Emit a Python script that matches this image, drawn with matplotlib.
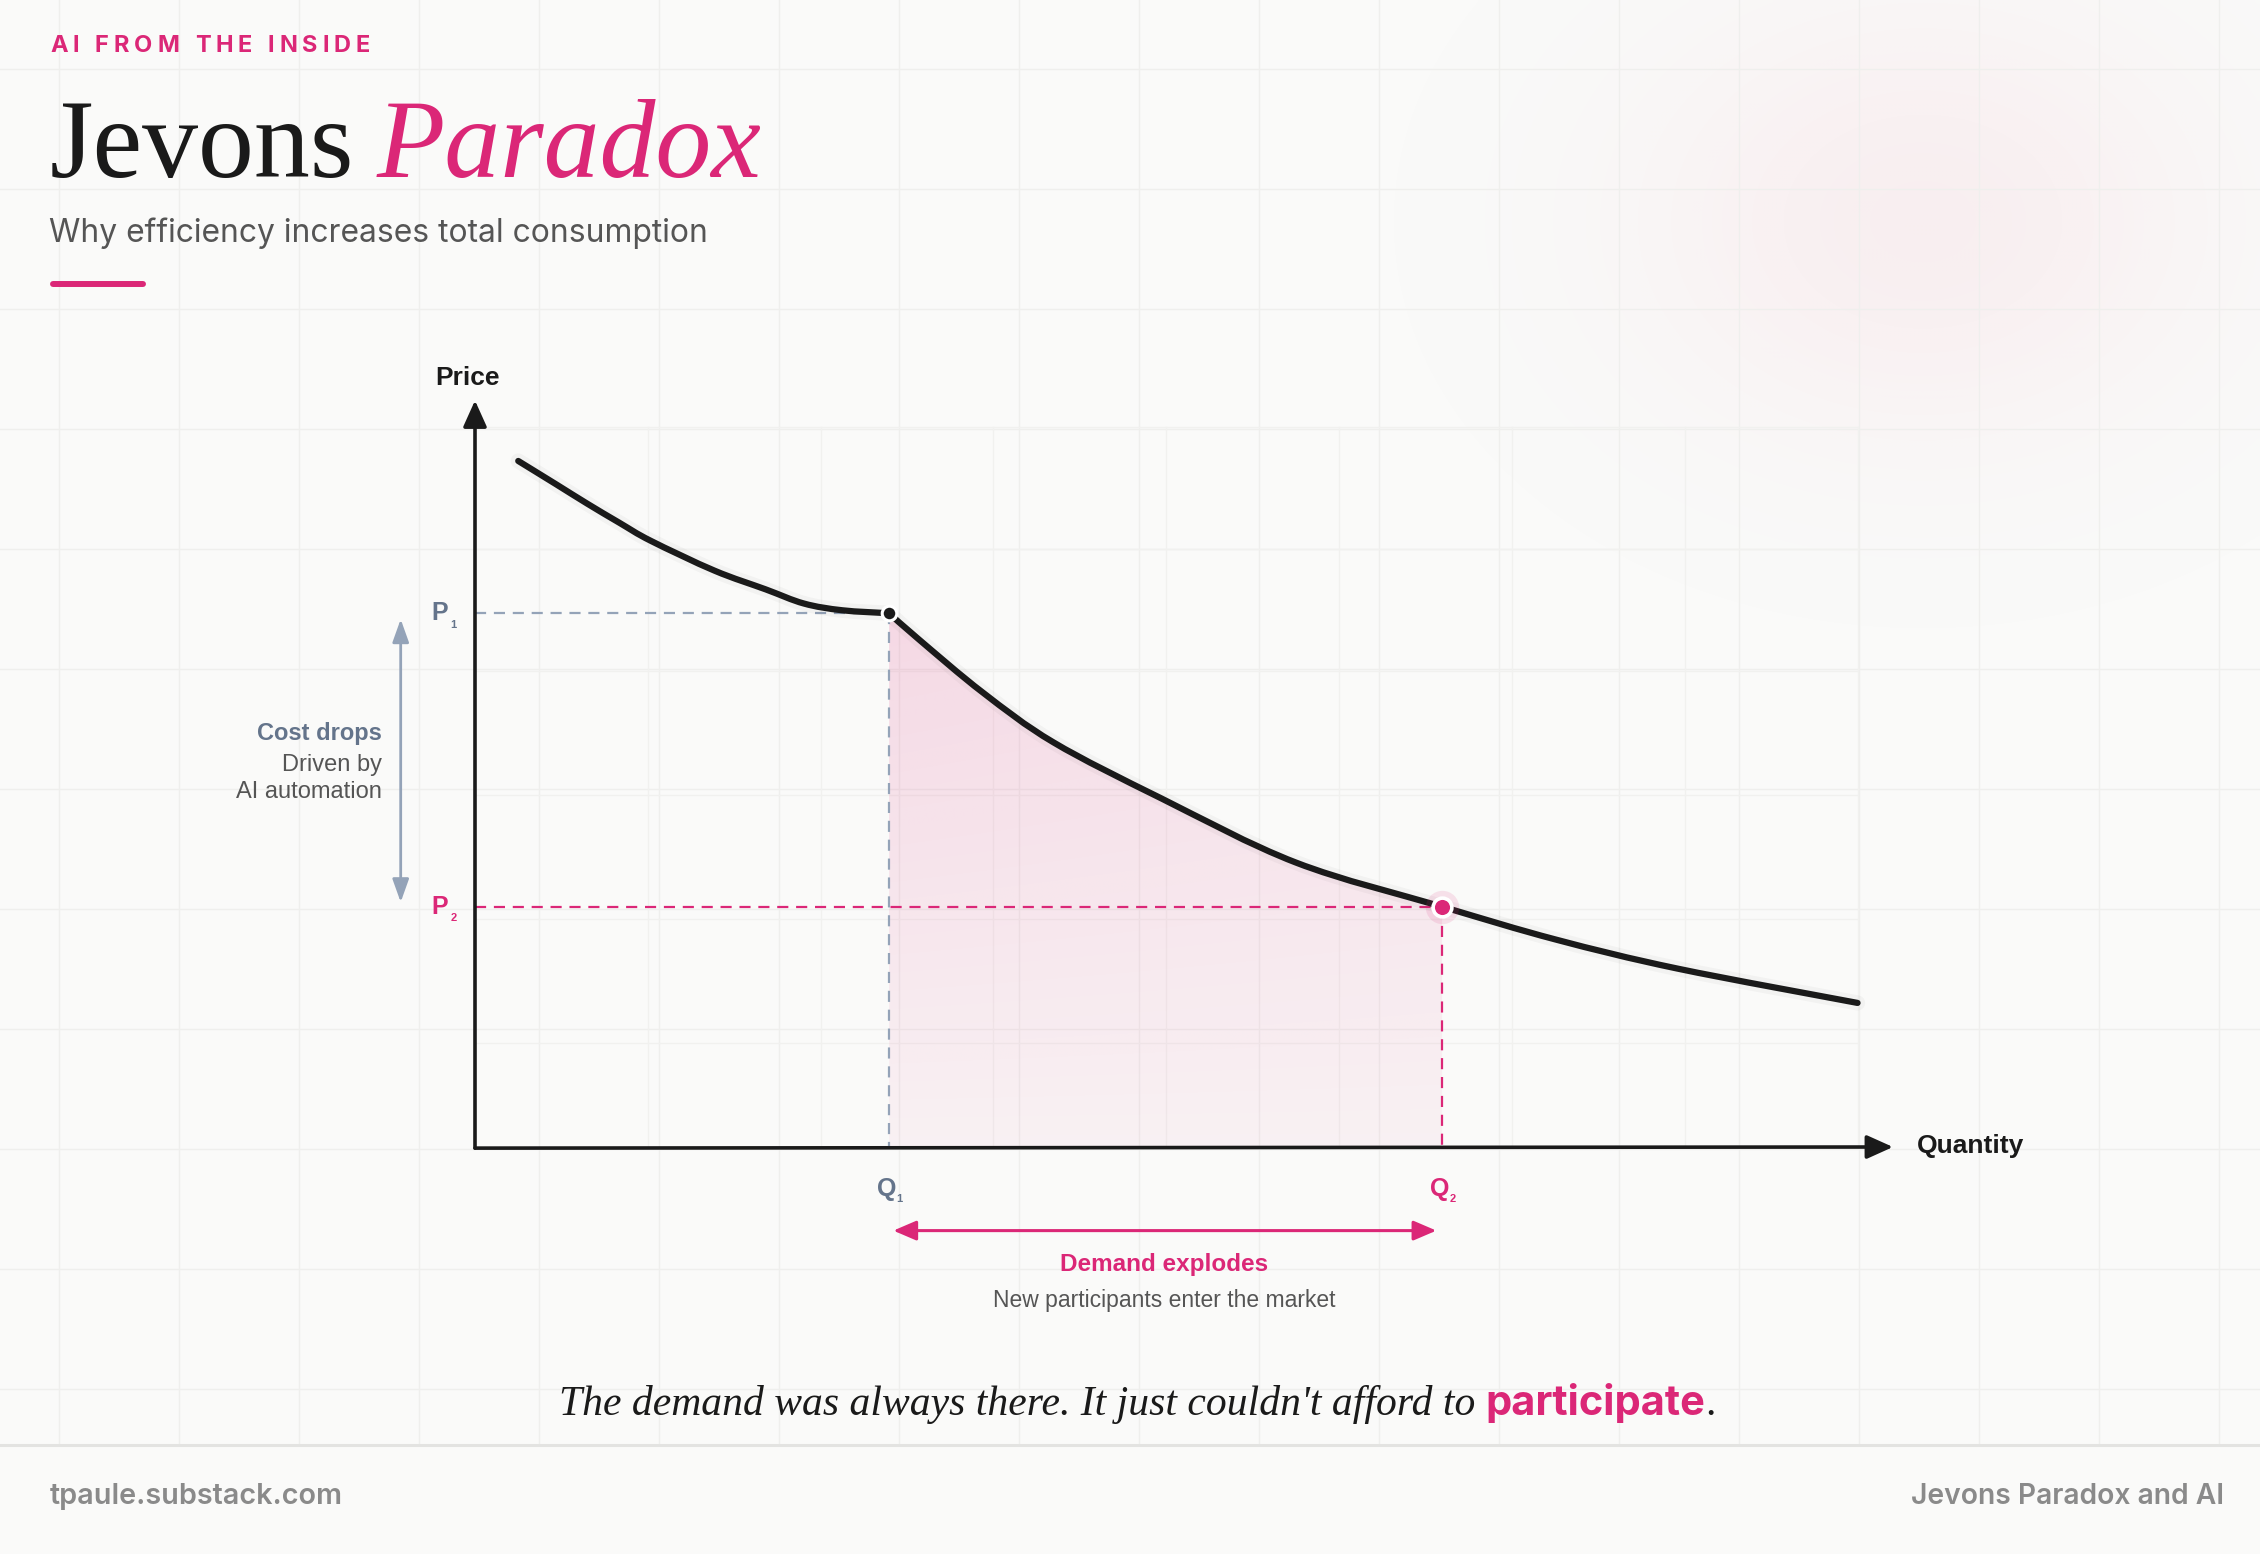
import numpy as np
import matplotlib
matplotlib.use('Agg')
import matplotlib.pyplot as plt
from matplotlib.colors import to_rgb
from matplotlib.path import Path
from matplotlib.patches import PathPatch

# values (chart units: quantity 0-100, price 0-100)
upper_q = [3.05, 5.7, 7.9, 10.2, 12.4, 16.9, 20.5, 23.2, 25.9, 29.2]
upper_p = [91.9, 88.8, 86.2, 83.6, 81.2, 77.2, 74.7, 72.8, 71.9, 71.5]
lower_q = [29.2, 31.3, 35.8, 40.8, 48.4, 57.9, 68.2, 76.2, 84.8, 97.5]
lower_p = [71.5, 68.0, 60.9, 54.2, 46.7, 38.1, 32.2, 27.8, 23.9, 19.3]
q1, q2 = 29.2, 68.2
p1, p2 = 71.5, 32.2

header = 'AI FROM THE INSIDE'
title_plain = 'Jevons'
title_accent = 'Paradox'
subtitle = 'Why efficiency increases total consumption'
quote_text = "The demand was always there. It just couldn't afford to"
quote_accent = 'participate'
footer_left = 'tpaule.substack.com'
footer_right = 'Jevons Paradox and AI'
cost_lines = ['Cost drops', 'Driven by', 'AI automation']
demand_lines = ['Demand explodes', 'New participants enter the market']

PINK = '#DB2777'
SLATE = '#64748B'
SLATE_LIGHT = '#94A3B8'
INK = '#1A1A1A'
GREY = '#555555'
FOOT = '#8A8A8A'
BG = '#FAFAF9'
GRID = '#EFEFED'
SANS = 'Liberation Sans'

W, H = 2260, 1554
fig = plt.figure(figsize=(W / 100, H / 100), dpi=100)
fig.patch.set_facecolor(BG)
r = fig.canvas.get_renderer()

# page layer in pixel coordinates
bg = fig.add_axes([0, 0, 1, 1])
bg.axis('off')

yy, xx = np.mgrid[0:H:4, 0:W:4]
d = np.hypot(xx - 1921, (yy - 220) * 1.3) / 400
glow = np.zeros(xx.shape + (4,))
glow[..., :3] = to_rgb('#F0A0B4')
glow[..., 3] = 0.13 * np.exp(-2 * d ** 2)
bg.imshow(glow, extent=[0, W, H, 0], interpolation='bilinear', zorder=0)
bg.set_xlim(0, W)
bg.set_ylim(H, 0)
bg.set_aspect('auto')

for x in range(59, W, 120):
    bg.plot([x, x], [0, 1445], color=GRID, lw=1, zorder=1)
for y in range(69, 1445, 120):
    bg.plot([0, W], [y, y], color=GRID, lw=1, zorder=1)
bg.plot([0, W], [1445, 1445], color='#E3E3E1', lw=2.2, zorder=1)


def measure(s, **kw):
    t = bg.text(0, 0, s, **kw)
    w = t.get_window_extent(r).width
    t.remove()
    return w


def fit_size(parts, gaps, width, base=40):
    tot = sum(measure(s, fontsize=base, **kw) for s, kw in parts) + gaps * base
    return base * width / tot


# header with letter spacing
hk = dict(family='Inter', weight='bold', color=PINK, fontsize=17)
cw = [measure(c, **hk) if c != ' ' else 0 for c in header]
spaces = header.count(' ')
sp_w = 0.25 * 17 * 100 / 72
track = (320 - sum(cw) - spaces * sp_w) / (len(header) - 1)
cx = 50
for c, w in zip(header, cw):
    if c == ' ':
        cx += sp_w + track
        continue
    bg.text(cx, 52, c, va='baseline', ha='left', **hk)
    cx += w + track

# title
t1 = dict(family='Liberation Serif', color=INK)
t2 = dict(family='Liberation Serif', style='italic', color=PINK)
gap = 0.2
fs = fit_size([(title_plain, t1), (title_accent, t2)], gap * 100 / 72, 712, 80)
w1 = measure(title_plain, fontsize=fs, **t1)
bg.text(50, 177, title_plain, fontsize=fs, va='baseline', **t1)
bg.text(50 + w1 + gap * fs * 100 / 72, 177, title_accent, fontsize=fs, va='baseline', **t2)

sk = dict(family='Inter', color=GREY)
fs = fit_size([(subtitle, sk)], 0, 660, 24)
bg.text(49, 242, subtitle, fontsize=fs, va='baseline', **sk)
bg.plot([53, 143], [284, 284], color=PINK, lw=4.3, solid_capstyle='round')

# footer
fk = dict(family='Inter', weight='semibold', color=FOOT)
fs = fit_size([(footer_left, fk)], 0, 292, 19)
bg.text(50, 1497, footer_left, fontsize=fs, va='center', **fk)
fs = fit_size([(footer_right, fk)], 0, 313, 19)
bg.text(2224, 1497, footer_right, fontsize=fs, va='center', ha='right', **fk)

# closing quote
qk = dict(family='Liberation Serif', style='italic', color=INK)
ak = dict(family='Inter', weight='bold', color=PINK)
gap = 0.25
fs = fit_size([(quote_text, qk), (quote_accent, ak), ('.', qk)], gap * 100 / 72, 1156, 30)
wq = measure(quote_text, fontsize=fs, **qk)
wa = measure(quote_accent, fontsize=fs, **ak)
x0 = 559
bg.text(x0, 1415, quote_text, fontsize=fs, va='baseline', **qk)
xa = x0 + wq + gap * fs * 100 / 72
bg.text(xa, 1415, quote_accent, fontsize=fs, va='baseline', **ak)
bg.text(xa + wa + 1, 1415, '.', fontsize=fs, va='baseline', **qk)

# chart layer in quantity / price units
ax = fig.add_axes([475 / W, 1 - 1147 / H, 1418 / W, 746.5 / H])
ax.patch.set_alpha(0)
ax.axis('off')

for gx in np.linspace(0, 97.5, 9):
    ax.plot([gx, gx], [0, 96.5], color='#F1F1EF', lw=1, zorder=0)
for gy in [13.9, 30.5, 47.1, 63.7, 80.1, 96.5]:
    ax.plot([0, 97.5], [gy, gy], color='#F1F1EF', lw=1, zorder=0)


def smooth_path(qs, ps):
    # Catmull-Rom through the read points, drawn as cubic Bezier segments
    pts = np.column_stack([qs, ps])
    ext = np.vstack([pts[0], pts, pts[-1]])
    verts = [pts[0]]
    codes = [Path.MOVETO]
    for i in range(len(pts) - 1):
        a, b, c, e = ext[i], ext[i + 1], ext[i + 2], ext[i + 3]
        verts += [b + (c - a) / 6, c - (e - b) / 6, c]
        codes += [Path.CURVE4] * 3
    return verts, codes


# shaded demand gain between Q1 and Q2
fill_q = [q for q in lower_q if q1 <= q <= q2]
fill_p = [p for q, p in zip(lower_q, lower_p) if q1 <= q <= q2]
fv, fc = smooth_path(fill_q, fill_p)
fv += [(q2, 0), (q1, 0), (q1, 0)]
fc += [Path.LINETO, Path.LINETO, Path.CLOSEPOLY]
poly = PathPatch(Path(fv, fc), facecolor='none', edgecolor='none')
ax.add_patch(poly)
gv, gu = np.mgrid[0:1:200j, 0:1:200j]
grad = np.zeros(gv.shape + (4,))
grad[..., :3] = to_rgb(PINK)
grad[..., 3] = 0.045 + 0.115 * gv * (1 - 0.25 * gu)
im = ax.imshow(grad, extent=[q1, q2, 0, p1], origin='lower', aspect='auto',
               interpolation='bilinear', zorder=1)
im.set_clip_path(poly)

dash = (0, (5, 3.5))
ax.plot([0, q1], [p1, p1], color=SLATE_LIGHT, lw=1.6, ls=dash, zorder=2)
ax.plot([q1, q1], [p1, 0], color=SLATE_LIGHT, lw=1.6, ls=dash, zorder=2)
ax.plot([0, q2], [p2, p2], color=PINK, lw=1.6, ls=dash, zorder=2)
ax.plot([q2, q2], [p2, 0], color=PINK, lw=1.6, ls=dash, zorder=2)

# axes with arrow heads
ap = dict(arrowstyle='-|>,head_length=0.8,head_width=0.36', mutation_scale=20,
          lw=2.6, color=INK, shrinkA=0, shrinkB=0)
ax.annotate('', xy=(100, 0), xytext=(0, -0.15), arrowprops=ap, annotation_clip=False, zorder=3)
ax.annotate('', xy=(0, 100), xytext=(0, -0.15), arrowprops=ap, annotation_clip=False, zorder=3)
ax.text(-0.5, 103.0, 'Price', family=SANS, weight='bold', fontsize=19, color=INK,
        ha='center', va='center')
ax.text(101.7, 0.2, 'Quantity', family=SANS, weight='bold', fontsize=19, color=INK,
        ha='left', va='center')

# demand curve
for qs, ps in [(upper_q, upper_p), (lower_q, lower_p)]:
    v, c = smooth_path(qs, ps)
    ax.add_patch(PathPatch(Path(v, c), facecolor='none', edgecolor='#000000',
                           lw=11, alpha=0.03, zorder=3, capstyle='round'))
    ax.add_patch(PathPatch(Path(v, c), facecolor='none', edgecolor=INK,
                           lw=4.5, zorder=4, capstyle='round', joinstyle='round'))

ax.plot(q1, p1, 'o', ms=10.5, mfc=INK, mec='white', mew=2.2, zorder=6)
ax.plot(q2, p2, 'o', ms=24, color=PINK, alpha=0.12, mew=0, zorder=5)
ax.plot(q2, p2, 'o', ms=13.5, mfc=PINK, mec='white', mew=2.6, zorder=6)


def sub_label(x, y, main, sub, color, ha, dx, dy):
    ax.text(x, y, main, family=SANS, weight='bold', fontsize=18, color=color,
            ha=ha, va='center')
    ax.annotate(sub, (x, y), xytext=(dx, dy), textcoords='offset points',
                family=SANS, weight='bold', fontsize=8, color=color,
                ha='left', va='center', annotation_clip=False)


sub_label(-1.9, p1, 'P', '1', SLATE, 'right', 1.5, -8.5)
sub_label(-1.9, p2, 'P', '2', PINK, 'right', 1.5, -8.5)
sub_label(q1 - 0.2, -5.6, 'Q', '1', SLATE, 'center', 7.5, -7.5)
sub_label(q2 - 0.2, -5.6, 'Q', '2', PINK, 'center', 7.5, -7.5)

# cost drops annotation
ax.annotate('', xy=(-5.24, 32.8), xytext=(-5.24, 70.7), annotation_clip=False,
            arrowprops=dict(arrowstyle='<|-|>,head_length=0.7,head_width=0.25',
                            mutation_scale=20, lw=2, color=SLATE_LIGHT,
                            shrinkA=0, shrinkB=0))
ax.text(-6.56, 55.4, cost_lines[0], family=SANS, weight='bold', fontsize=17,
        color=SLATE, ha='right', va='center')
ax.text(-6.56, 51.2, cost_lines[1], family=SANS, fontsize=17, color=GREY,
        ha='right', va='center')
ax.text(-6.56, 47.5, cost_lines[2], family=SANS, fontsize=17, color=GREY,
        ha='right', va='center')

# demand explodes annotation
ax.annotate('', xy=(q2 - 0.4, -11.2), xytext=(q1 + 0.3, -11.2), annotation_clip=False,
            arrowprops=dict(arrowstyle='<|-|>,head_length=0.7,head_width=0.3',
                            mutation_scale=20, lw=2.2, color=PINK,
                            shrinkA=0, shrinkB=0))
ax.text(48.6, -15.8, demand_lines[0], family=SANS, weight='bold', fontsize=17.5,
        color=PINK, ha='center', va='center')
ax.text(48.6, -20.5, demand_lines[1], family=SANS, fontsize=16.5, color=GREY,
        ha='center', va='center')

ax.set_xlim(0, 100)
ax.set_ylim(0, 100)

fig.savefig('out.png', dpi=100, facecolor=BG)
